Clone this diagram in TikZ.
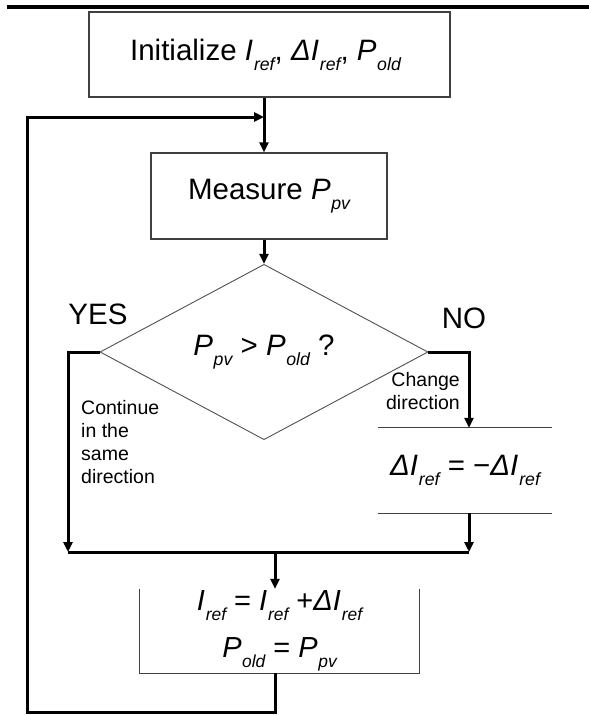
\documentclass[tikz,border=0pt]{standalone}
\usepackage{fontspec}
\setmainfont{Liberation Sans}
\usetikzlibrary{arrows.meta,shapes.geometric}

% italic variables with small lowered subscripts
\newcommand\Sb[1]{\raisebox{-0.34em}{\scalebox{0.6}{\itshape #1}}}
\newcommand\Ir{\textit{I}\kern0.03em\Sb{ref}}
\newcommand\dIr{\textit{ΔI}\kern0.03em\Sb{ref}}
\newcommand\Po{\textit{P}\kern0.02em\Sb{old}}
\newcommand\Ppv{\textit{P}\kern0.02em\Sb{pv}}

\definecolor{edgegray}{HTML}{404040}
\definecolor{thingray}{HTML}{505050}

\tikzset{
  bigtext/.style={font=\fontsize{29.5}{36}\selectfont},
  smalltext/.style={font=\fontsize{19.5}{23}\selectfont},
  stepbox/.style={draw=edgegray, line width=1.4pt, inner sep=0pt, bigtext},
  wire/.style={line width=3pt, line join=miter},
  flow/.style={wire, -{Triangle[length=10pt,width=9pt]}},
  thinrule/.style={draw=edgegray, line width=1.3pt},
}

\begin{document}
\begin{tikzpicture}[x=1pt, y=-1pt]
\useasboundingbox (0,0) rectangle (589,715);

% heading rule
\draw[line width=3.5pt] (7,7) -- (589,7);

% helper points for the connector grid
\coordinate (spine) at (264,0);
\coordinate (entry) at (264,117);
\coordinate (lj) at (68,552);
\coordinate (rj) at (469,552);
\coordinate (mj) at (275,552);
\coordinate (lb) at (27,712);

% blocks
\node[stepbox, minimum width=361pt, minimum height=85pt] (init) at (269.5,54.5)
  {\hspace*{-8pt}Initialize \Ir, \dIr, \Po};
\node[stepbox, minimum width=236pt, minimum height=86pt] (measure) at (269,196)
  {Measure \Ppv};
\node[diamond, draw=thingray, line width=0.9pt, inner sep=0pt,
      minimum width=328pt, minimum height=152pt, bigtext] (dec) at (264,352)
  {\Ppv{} > \Po{} ?};
\node[inner sep=0pt, minimum width=174pt, minimum height=85pt, bigtext] (dbox) at (465,470.5)
  {\dIr{} = −\dIr};
\node[inner sep=0pt, minimum width=279pt, minimum height=84pt,
      font=\fontsize{29}{47}\selectfont, align=center] (ubox) at (279.5,631)
  {\Ir{} = \Ir{} +\dIr\\ \Po{} = \Ppv};

% open-sided frames
\draw[thinrule] (dbox.north west) -- (dbox.north east);
\draw[thinrule] (dbox.south west) -- (dbox.south east);
\draw[thinrule] (ubox.north west) -- (ubox.south west) -- (ubox.south east) -- (ubox.north east);

% labels
\node[bigtext] (yes) at (98,314) {YES};
\node[bigtext] (no) at (464,318) {NO};
\node[smalltext, align=right, anchor=east, inner sep=0pt] (chg) at (460,391)
  {Change\\direction};
\node[smalltext, align=left, anchor=west, inner sep=0pt] (cont) at (81,442.5)
  {Continue\\in the\\same\\direction};

% connectors
\draw[flow] (init.south -| spine) -- (measure.north -| spine);
\draw[flow] (measure.south -| spine) -- (dec.north);
\draw[flow] (dec.west) -| (lj);
\draw[flow] (dec.east) -| (dbox.north -| rj);
\draw[flow] (dbox.south -| rj) -- (rj);
\draw[wire] (lj) -- (rj);
\draw[flow] (mj) -- (ubox.north -| mj);
\draw[flow] (ubox.south -| mj) |- (lb) |- (entry);
\end{tikzpicture}
\end{document}
